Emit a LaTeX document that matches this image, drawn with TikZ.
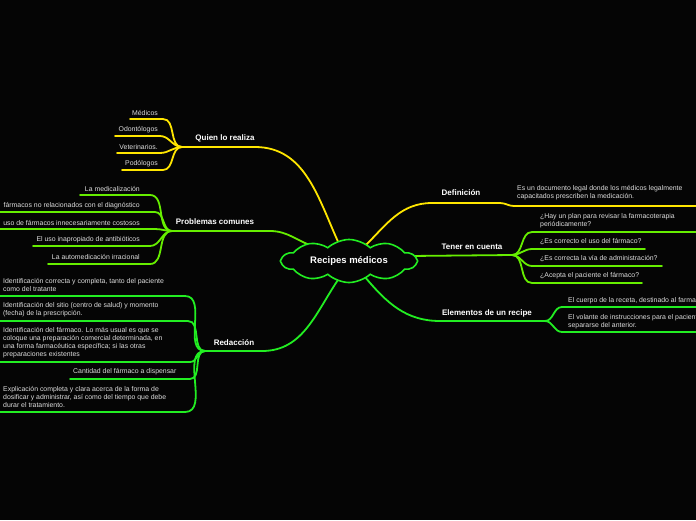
\documentclass[tikz,border=0pt]{standalone}
\usepackage{fontspec}
\setmainfont{Liberation Sans}
\usetikzlibrary{shapes.symbols}
\definecolor{bg}{HTML}{050505}
\definecolor{cyel}{HTML}{FFE600}
\definecolor{clime}{HTML}{66EE00}
\definecolor{cgrn}{HTML}{22EE22}
\definecolor{ltxt}{HTML}{DDDDDD}
\begin{document}
\begin{tikzpicture}[x=1pt,y=-1pt,
  lnk/.style={line width=1.8pt, line cap=round},
  leaf/.style={text=ltxt, font=\fontsize{6.9}{8}\selectfont, inner sep=0pt, align=left},
  leafr/.style={leaf, anchor=east},
  leafl/.style={leaf, anchor=west},
  br/.style={text=white, font=\bfseries\fontsize{8}{9}\selectfont, inner sep=0pt},
  hv/.style={out=0,in=180},
  vh/.style={out=180,in=0}]
\fill[bg] (0,0) rectangle (696,520);
\useasboundingbox (0,0) rectangle (696,520);
\clip (0,0) rectangle (696,520);

% ---------- coordinates on cloud ----------
\coordinate (cq) at (340,246);
\coordinate (cd) at (365,246);
\coordinate (ct) at (410,256);
\coordinate (ce) at (365,277);
\coordinate (cr) at (340,277);
\coordinate (cp) at (316,247);

% ---------- Quien lo realiza ----------
\node[br] (q) at (225,138) {Quien lo realiza};
\coordinate (qh) at (182,147);
\coordinate (qe) at (255,147);
\draw[lnk,cyel] (qh) -- (qe);
\draw[lnk,cyel] (qe) to[out=0,in=115] (cq);
\node[leafr] (q1) at (158,113) {Médicos};
\node[leafr] (q2) at (158,130) {Odontólogos};
\node[leafr] (q3) at (158,147) {Veterinarios.};
\node[leafr] (q4) at (158,164) {Podólogos};
\coordinate (q1a) at (130,119); \coordinate (q1b) at (163,119);
\coordinate (q2a) at (115,136); \coordinate (q2b) at (160,136);
\coordinate (q3a) at (117,153); \coordinate (q3b) at (160,153);
\coordinate (q4a) at (122,170); \coordinate (q4b) at (163,170);
\foreach \i in {1,...,4}{
  \draw[lnk,cyel] (q\i a) -- (q\i b) to[hv] (qh);
}

% ---------- Problemas comunes ----------
\node[br] (p) at (215,222) {Problemas comunes};
\coordinate (ph) at (172,231);
\coordinate (pe) at (270,231);
\draw[lnk,clime] (ph) -- (pe) to[out=0,in=165] (cp);
\node[leafr] (p1) at (140,189) {La medicalización};
\node[leafr] (p2) at (140,206) {fármacos no relacionados con el diagnóstico};
\node[leafr] (p3) at (140,223) {uso de fármacos innecesariamente costosos};
\node[leafr] (p4) at (140,240) {El uso inapropiado de antibióticos};
\node[leafr] (p5) at (140,257) {La automedicación irracional};
\coordinate (p1a) at (80,195);  \coordinate (p1b) at (150,195);
\coordinate (p2a) at (-5,212);  \coordinate (p2b) at (155,212);
\coordinate (p3a) at (-5,229);  \coordinate (p3b) at (155,229);
\coordinate (p4a) at (33,246);  \coordinate (p4b) at (150,246);
\coordinate (p5a) at (48,264);  \coordinate (p5b) at (150,264);
\foreach \i in {1,...,5}{
  \draw[lnk,clime] (p\i a) -- (p\i b) to[hv] (ph);
}

% ---------- Redacción ----------
\node[br] (r) at (234,343) {Redacción};
\coordinate (rh) at (205,351);
\coordinate (re) at (262,351);
\draw[lnk,cgrn] (rh) -- (re) to[out=0,in=235] (cr);
\node[leafl] (r1) at (3,285) {Identificación correcta y completa, tanto del paciente\\como del tratante};
\node[leafl] (r2) at (3,310) {Identificación del sitio (centro de salud) y momento\\(fecha) de la prescripción.};
\node[leafl] (r3) at (3,343) {Identificación del fármaco. Lo más usual es que se\\coloque una preparación comercial determinada, en\\una forma farmacéutica específica; si las otras\\preparaciones existentes};
\node[leafl] (r4) at (73,372) {Cantidad del fármaco a dispensar};
\node[leafl] (r5) at (3,397) {Explicación completa y clara acerca de la forma de\\dosificar y administrar, así como del tiempo que debe\\durar el tratamiento.};
\coordinate (r1a) at (-5,296); \coordinate (r1b) at (185,296);
\coordinate (r2a) at (-5,321); \coordinate (r2b) at (188,321);
\coordinate (r3a) at (-5,362); \coordinate (r3b) at (190,362);
\coordinate (r4a) at (70,379); \coordinate (r4b) at (190,379);
\coordinate (r5a) at (-5,412); \coordinate (r5b) at (185,412);
\foreach \i in {1,...,5}{
  \draw[lnk,cgrn] (r\i a) -- (r\i b) to[hv] (rh);
}

% ---------- Definición ----------
\node[br] (d) at (461,193) {Definición};
\coordinate (d0) at (432,203);
\coordinate (d1) at (500,203);
\coordinate (d2) at (514,206);
\coordinate (d3) at (700,206);
\draw[lnk,cyel] (cd) to[out=45,in=180] (d0) -- (d1) to[hv] (d2) -- (d3);
\node[leafl] (d4) at (517,193) {Es un documento legal donde los médicos legalmente\\capacitados prescriben la medicación.};

% ---------- Tener en cuenta ----------
\node[br] (t) at (472,247) {Tener en cuenta};
\coordinate (th) at (512,255);
\draw[lnk,clime] (ct) -- (th);
\node[leafl] (t1) at (540,221) {¿Hay un plan para revisar la farmacoterapia\\periódicamente?};
\node[leafl] (t2) at (540,242) {¿Es correcto el uso del fármaco?};
\node[leafl] (t3) at (540,259) {¿Es correcta la vía de administración?};
\node[leafl] (t4) at (540,276) {¿Acepta el paciente el fármaco?};
\coordinate (t1a) at (532,232); \coordinate (t1b) at (700,232);
\coordinate (t2a) at (532,249); \coordinate (t2b) at (645,249);
\coordinate (t3a) at (532,266); \coordinate (t3b) at (662,266);
\coordinate (t4a) at (532,283); \coordinate (t4b) at (642,283);
\foreach \i in {1,...,4}{
  \draw[lnk,clime] (th) to[hv] (t\i a) -- (t\i b);
}

% ---------- Elementos de un recipe ----------
\node[br] (e) at (487,313) {Elementos de un recipe};
\coordinate (e0) at (440,321);
\coordinate (eh) at (545,321);
\draw[lnk,cgrn] (ce) to[out=-50,in=180] (e0) -- (eh);
\node[leafl] (e1) at (568,301) {El cuerpo de la receta, destinado al farmacéutico};
\node[leafl] (e2) at (568,322) {El volante de instrucciones para el paciente, que puede\\separarse del anterior.};
\coordinate (e1a) at (562,307); \coordinate (e1b) at (700,307);
\coordinate (e2a) at (562,332); \coordinate (e2b) at (700,332);
\foreach \i in {1,2}{
  \draw[lnk,cgrn] (eh) to[hv] (e\i a) -- (e\i b);
}

% ---------- central cloud ----------
\node[cloud, cloud puffs=10, cloud puff arc=85, aspect=3.5, draw=cgrn, fill=bg,
      line width=1.6pt, minimum width=134pt, minimum height=36pt, inner sep=0pt,
      text=white, font=\bfseries\fontsize{9.5}{11}\selectfont] (c) at (349,261) {Recipes médicos};
\end{tikzpicture}
\end{document}
